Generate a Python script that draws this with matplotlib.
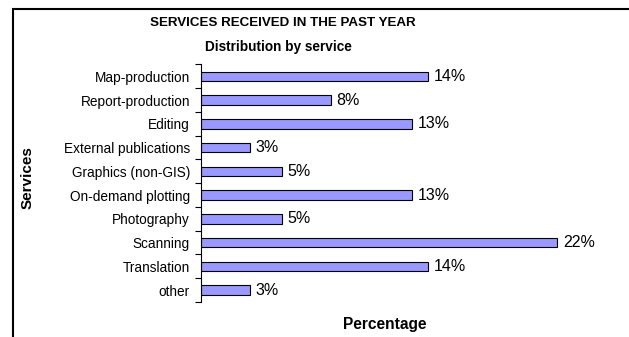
import numpy as np
import matplotlib
matplotlib.use('Agg')
import matplotlib.pyplot as plt
from matplotlib.patches import Rectangle

plt.rcParams['font.family'] = ['Liberation Sans', 'DejaVu Sans']

services = ['Map-production', 'Report-production', 'Editing', 'External publications',
            'Graphics (non-GIS)', 'On-demand plotting', 'Photography', 'Scanning',
            'Translation', 'other']
percent = [14, 8, 13, 3, 5, 13, 5, 22, 14, 3]

W, H = 629, 337
fig = plt.figure(figsize=(W / 100, H / 100), dpi=100)

# outer frame of the chart area (open to the right and bottom)
fig.add_artist(Rectangle((13 / W, -0.1), 1.2, 1 - 9.5 / H + 0.1, transform=fig.transFigure,
                         facecolor='none', edgecolor='black', linewidth=1.5))

ax = fig.add_axes([201 / W, 1 - 302 / H, (606 - 201) / W, (302 - 64.5) / H])
y = np.arange(len(services))
bars = ax.barh(y, percent, height=0.4, color='#9999ff', edgecolor='black', linewidth=0.8)

for yi, v in zip(y, percent):
    ax.text(v + 0.35, yi, f'{v}%', va='center', ha='left', fontsize=11.5)

ax.set_ylim(len(services) - 0.5, -0.5)
ax.set_xlim(0, 25)
ax.set_yticks(y)
ax.set_yticklabels(services, fontsize=9.8)
ax.tick_params(axis='y', which='major', length=0, pad=8)
ax.set_yticks(np.arange(len(services) + 1) - 0.5, minor=True)
ax.tick_params(axis='y', which='minor', length=4, width=0.8, direction='out')
ax.set_xticks([])
for s in ['top', 'right', 'bottom']:
    ax.spines[s].set_visible(False)
ax.spines['left'].set_linewidth(0.8)

fig.text(282.5 / W, 1 - 23 / H, 'SERVICES RECEIVED IN THE PAST YEAR', ha='center', va='center',
         fontsize=9.6, fontweight='bold')
fig.text(278.5 / W, 1 - 47 / H, 'Distribution by service', ha='center', va='center',
         fontsize=9.8, fontweight='bold')
fig.text(28 / W, 1 - 178 / H, 'Services', rotation=90, ha='center', va='center',
         fontsize=11, fontweight='bold')
fig.text(385 / W, 1 - 324 / H, 'Percentage', ha='center', va='center',
         fontsize=11.2, fontweight='bold')

fig.savefig('out.png', dpi=100, facecolor='white')
